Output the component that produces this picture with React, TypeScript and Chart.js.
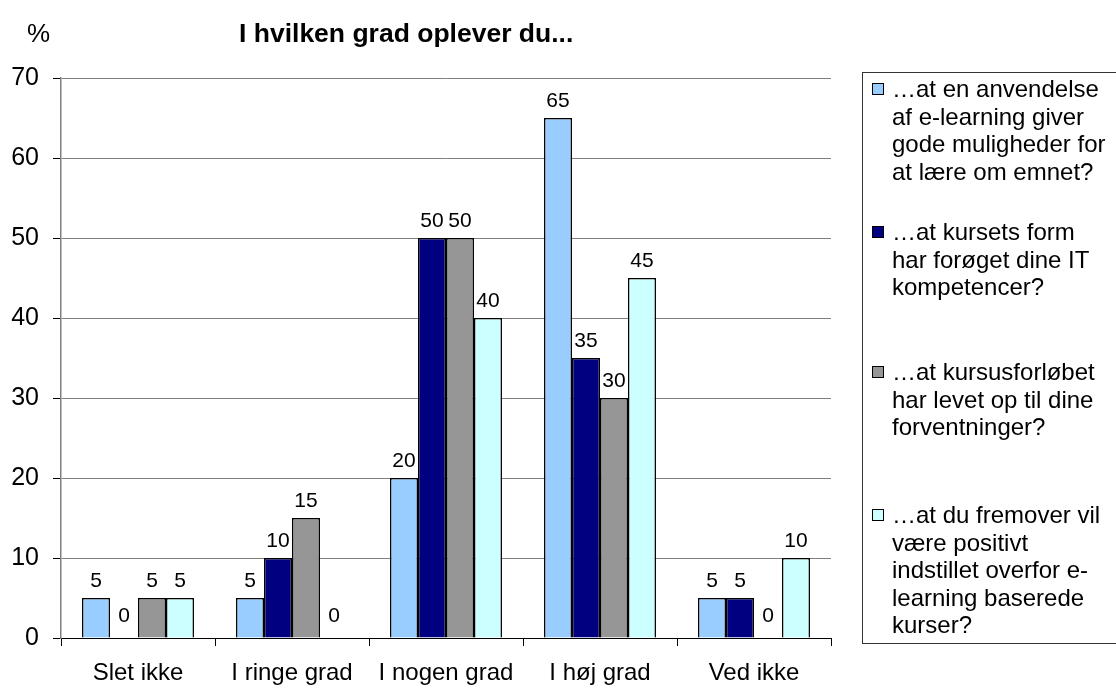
import React, { useEffect, useRef } from "react";
import { Chart, registerables } from "chart.js";

Chart.register(...registerables);

const categories = ["Slet ikke", "I ringe grad", "I nogen grad", "I høj grad", "Ved ikke"];
const seriesNames = [
  "…at en anvendelse af e-learning giver gode muligheder for at lære om emnet?",
  "…at kursets form har forøget dine IT kompetencer?",
  "…at kursusforløbet har levet op til dine forventninger?",
  "…at du fremover vil være positivt indstillet overfor e-learning baserede kurser?",
];
const legendLines = [
  ["…at en anvendelse", "af e-learning giver", "gode muligheder for", "at lære om emnet?"],
  ["…at kursets form", "har forøget dine IT", "kompetencer?"],
  ["…at kursusforløbet", "har levet op til dine", "forventninger?"],
  ["…at du fremover vil", "være positivt", "indstillet overfor e-", "learning baserede", "kurser?"],
];
const serieE = [5, 5, 20, 65, 5];
const serieIT = [0, 10, 50, 35, 5];
const serieForl = [5, 15, 50, 30, 0];
const serieFrem = [5, 0, 40, 45, 10];
const seriesValues = [serieE, serieIT, serieForl, serieFrem];
const colors = ["#99CCFF", "#000080", "#969696", "#CCFFFF"];
const yMin = 0;
const yMax = 70;
const yStep = 10;
const titleText = "I hvilken grad oplever du...";
const unitText = "%";

const FONT = "'Liberation Sans', Arial, Helvetica, sans-serif";

const LEGEND_LH = 27.5;
const legendCenters = [89, 232, 372, 515];

const valueLabels = {
  id: "valueLabels",
  afterDatasetsDraw(chart: any) {
    const ctx = chart.ctx;
    ctx.save();
    ctx.font = `21px ${FONT}`;
    ctx.fillStyle = "#000";
    ctx.textAlign = "center";
    ctx.textBaseline = "alphabetic";
    chart.data.datasets.forEach((ds: any, di: number) => {
      const meta = chart.getDatasetMeta(di);
      meta.data.forEach((el: any, i: number) => {
        const v = ds.data[i];
        const off = v === 0 ? 16 : 11;
        ctx.fillText(String(v), el.x, el.y - off);
      });
    });
    ctx.restore();
  },
};

export default function App() {
  const ref = useRef<HTMLCanvasElement>(null);
  useEffect(() => {
    const chart = new Chart(ref.current!, {
      type: "bar",
      data: {
        labels: categories,
        datasets: seriesValues.map((vals, i) => ({
          label: seriesNames[i],
          data: vals,
          backgroundColor: colors[i],
          borderColor: "#000",
          borderWidth: 1.5,
          barPercentage: 1,
          categoryPercentage: 0.727,
        })),
      },
      options: {
        responsive: false,
        animation: false,
        layout: { padding: { left: 0, right: 285, top: 78, bottom: 0 } },
        plugins: {
          legend: { display: false },
          tooltip: { enabled: false },
          title: { display: false },
        },
        scales: {
          x: {
            grid: { drawOnChartArea: false, drawTicks: true, tickLength: 8, color: "#000", tickColor: "#000", offset: true },
            border: { color: "#000", width: 1 },
            ticks: { font: { family: FONT, size: 24 }, color: "#000", padding: 13 },
            afterFit: (s: any) => {
              s.height = 50;
            },
          },
          y: {
            min: yMin,
            max: yMax,
            ticks: { stepSize: yStep, font: { family: FONT, size: 25 }, color: "#000", padding: 14 },
            grid: { color: "#808080", tickColor: "#000", tickLength: 8, drawTicks: true },
            border: { color: "#808080", width: 1.5 },
            afterFit: (s: any) => {
              s.width = 61;
            },
          },
        },
      },
      plugins: [valueLabels],
    });
    return () => chart.destroy();
  }, []);

  return (
    <div
      style={{
        position: "fixed",
        left: 0,
        top: 0,
        width: 1116,
        height: 688,
        overflow: "hidden",
        background: "#fff",
        fontFamily: FONT,
      }}
    >
      <canvas ref={ref} width={1116} height={688} style={{ position: "absolute", left: 0, top: 0 }} />
      <div style={{ position: "absolute", left: 27, top: 18, fontSize: 26, lineHeight: "30px", color: "#000" }}>{unitText}</div>
      <div style={{ position: "absolute", left: 239, top: 18, fontSize: 26.5, lineHeight: "30px", fontWeight: "bold", color: "#000", whiteSpace: "nowrap" }}>
        {titleText}
      </div>
      <div
        style={{
          position: "absolute",
          left: 862,
          top: 72,
          width: 270,
          height: 572,
          border: "1.5px solid #333",
          boxSizing: "border-box",
        }}
      />
      {legendLines.map((lines, i) => (
        <React.Fragment key={i}>
          <div
            style={{
              position: "absolute",
              left: 872,
              top: legendCenters[i] - 6,
              width: 12,
              height: 12,
              boxSizing: "border-box",
              background: colors[i],
              border: "1.5px solid #000",
            }}
          />
          <div
            style={{
              position: "absolute",
              left: 892,
              top: legendCenters[i] - LEGEND_LH / 2,
              fontSize: 24,
              lineHeight: `${LEGEND_LH}px`,
              whiteSpace: "nowrap",
              color: "#000",
            }}
          >
            {lines.map((l, j) => (
              <div key={j}>{l}</div>
            ))}
          </div>
        </React.Fragment>
      ))}
    </div>
  );
}
